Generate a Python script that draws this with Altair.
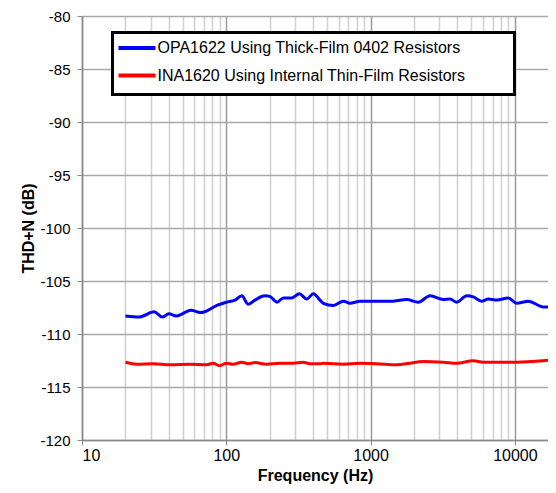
import altair as alt
import pandas as pd

# Blue series: OPA1622 Using Thick-Film 0402 Resistors
opa_freq = [20, 25, 31.6, 36, 40, 45, 57, 66, 71, 86, 100, 115, 128, 142, 158, 185, 200, 225,
            248, 284, 321, 361, 401, 446, 470, 552, 647, 720, 845, 1100, 1437, 1778, 2141, 2581,
            3192, 3550, 3950, 4636, 5150, 5890, 6550, 7480, 9000, 10300, 12400, 15700, 20000]
opa_thd = [-108.3, -108.4, -107.9, -108.4, -108.1, -108.3, -107.76, -107.98, -107.9, -107.3,
           -107.0, -106.8, -106.4, -107.2, -106.8, -106.4, -106.45, -107.0, -106.6, -106.6,
           -106.2, -106.7, -106.2, -106.8, -107.1, -107.3, -106.9, -107.1, -106.9, -106.9,
           -106.9, -106.75, -107.0, -106.4, -106.75, -106.7, -107.0, -106.4, -106.5, -106.9,
           -106.7, -106.8, -106.6, -107.1, -106.9, -107.45, -107.45]

# Red series: INA1620 Using Internal Thin-Film Resistors
ina_freq = [20, 24, 31, 41, 56, 73, 81, 90, 100, 111, 128, 142, 158, 190, 235, 290, 342, 380,
            446, 470, 647, 845, 1100, 1520, 1870, 2300, 3200, 3950, 5150, 6040, 9200, 12800,
            15700, 20000]
ina_thd = [-112.67, -112.85, -112.8, -112.9, -112.85, -112.9, -112.76, -113.0, -112.76,
           -112.85, -112.67, -112.8, -112.7, -112.85, -112.76, -112.76, -112.67, -112.8,
           -112.8, -112.76, -112.85, -112.76, -112.8, -112.9, -112.76, -112.6, -112.67,
           -112.76, -112.53, -112.67, -112.67, -112.6, -112.53, -112.35]

series_names = ["OPA1622 Using Thick-Film 0402 Resistors",
                "INA1620 Using Internal Thin-Film Resistors"]
series_colors = ["#0000FF", "#FF0000"]

x_ticks = [10, 20, 30, 40, 50, 60, 70, 80, 90,
           100, 200, 300, 400, 500, 600, 700, 800, 900,
           1000, 2000, 3000, 4000, 5000, 6000, 7000, 8000, 9000,
           10000]
x_labels = [10, 100, 1000, 10000]
y_ticks = [-120, -115, -110, -105, -100, -95, -90, -85, -80]

rows = []
for f, v in zip(opa_freq, opa_thd):
    rows.append({"freq": f, "thd": v, "series": series_names[0], "order": f})
for f, v in zip(ina_freq, ina_thd):
    rows.append({"freq": f, "thd": v, "series": series_names[1], "order": f})
df = pd.DataFrame(rows)

FONT = "Liberation Sans"
decade_list = "[" + ", ".join(str(v) for v in x_labels) + "]"
decade_test = f"indexof({decade_list}, datum.value) >= 0"

chart = alt.Chart(df).mark_line(strokeWidth=3, clip=True, interpolate="monotone").encode(
    x=alt.X("freq:Q",
            scale=alt.Scale(type="log", domain=[10, 16960], nice=False),
            axis=alt.Axis(values=x_ticks, format="d",
                          labelExpr=f"{decade_test} ? '' + datum.value : ''",
                          title="Frequency (Hz)",
                          gridColor={"condition": {"test": decade_test, "value": "#9a9a9a"}, "value": "#d0d0d0"},
                          tickOpacity={"condition": {"test": decade_test, "value": 1}, "value": 0},
                          tickSize=5, tickColor="#888888", domainColor="#888888",
                          labelFontSize=16, labelPadding=2, titlePadding=4)),
    y=alt.Y("thd:Q",
            scale=alt.Scale(domain=[-120, -80], nice=False, zero=False),
            axis=alt.Axis(values=y_ticks, title="THD+N (dB)", gridColor="#a8a8a8",
                          labelExpr="'' + datum.value",
                          tickSize=5, tickColor="#888888", domainColor="#888888",
                          labelFontSize=15, labelPadding=7, titlePadding=3)),
    color=alt.Color("series:N",
                    scale=alt.Scale(domain=series_names, range=series_colors),
                    legend=alt.Legend(title=[" ", " ", " "], titleOrient="right", titlePadding=43,
                                      titleAnchor="start", titleBaseline="top",
                                      titleFontSize=16, titleLineHeight=17,
                                      orient="none", legendX=30.5, legendY=16.5,
                                      symbolType="M-2.5,0H2.5", symbolStrokeWidth=4,
                                      symbolSize=219, symbolOffset=9, labelOffset=11,
                                      labelLimit=600,
                                      labelFontSize=16, labelFont=FONT, labelColor="black",
                                      strokeColor="black", fillColor="white",
                                      padding=6, rowPadding=9.5)),
    order="order:Q",
).properties(
    width=466, height=424,
    autosize=alt.AutoSizeParams(type="none"),
    padding={"left": 74, "top": 8, "right": 0, "bottom": 45},
).configure_view(stroke=None).configure_axis(
    labelFont=FONT, labelColor="black",
    titleFont=FONT, titleFontSize=16, titleFontWeight="bold", titleColor="black",
    gridWidth=1.5, domainWidth=1.5,
).configure_legend(strokeWidth=3)

chart.save("out.html", embed_options={"renderer": "svg", "actions": False})
